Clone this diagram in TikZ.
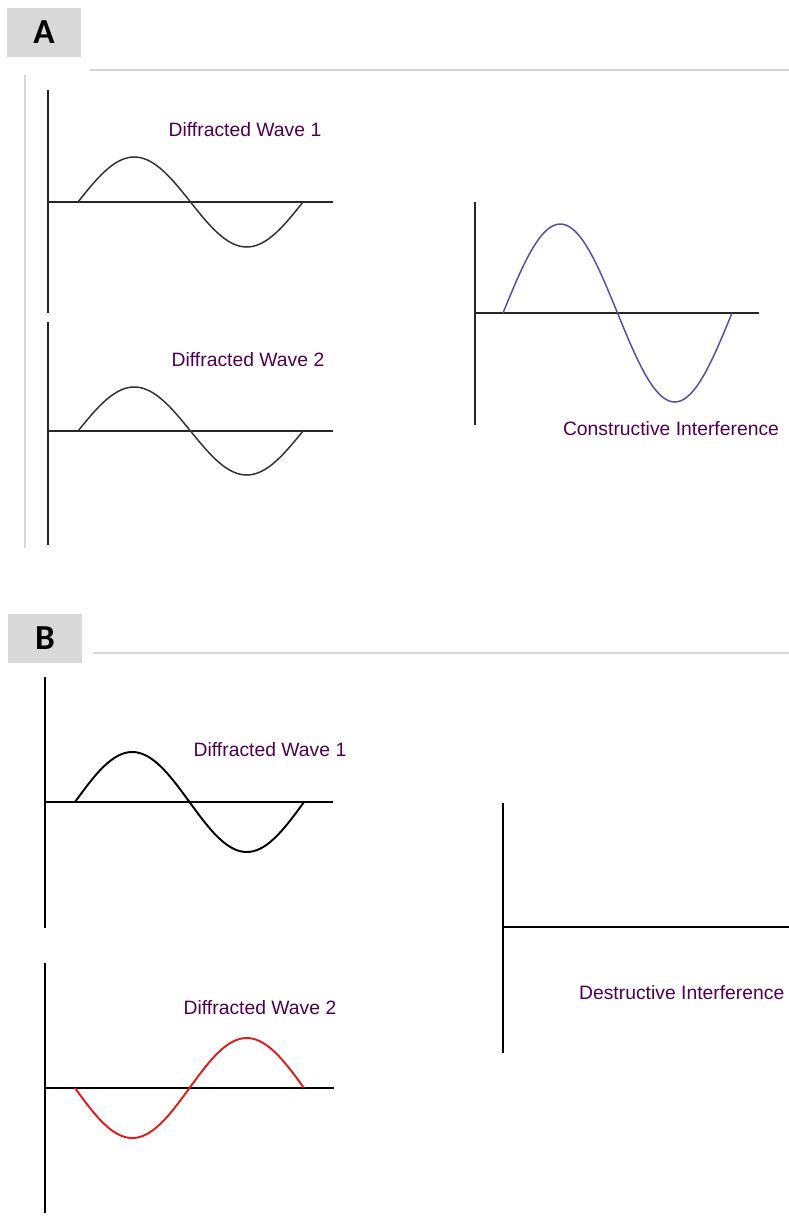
\documentclass[tikz,border=0pt]{standalone}
\usepackage{fontspec}
\setmainfont{Liberation Sans}
\newfontfamily\letrafont{Carlito}

\definecolor{morado}{RGB}{78,0,78}
\definecolor{azulonda}{RGB}{82,82,165}
\definecolor{rojoonda}{RGB}{222,28,28}
\definecolor{grisfondo}{RGB}{217,217,217}

\begin{document}
\begin{tikzpicture}[
    x=0.2mm, y=-0.2mm,
    letra/.style  = {rectangle, fill=grisfondo, minimum width=14.6mm,
                     minimum height=9.8mm, inner sep=0pt,
                     font=\letrafont\fontsize{20}{22}\selectfont\bfseries},
    separa/.style = {draw=black!16, line width=0.6pt},
    eje/.style    = {draw=black!85, line width=1.1pt},
    ejeB/.style   = {draw=black, line width=1.2pt},
    onda/.style   = {draw=black!80, line width=0.85pt},
    ondaB/.style  = {draw=black, line width=1.1pt},
    texto/.style  = {font=\fontsize{11}{13}\selectfont, text=morado,
                     inner sep=1pt},
  ]
  \useasboundingbox (0,0) rectangle (789,1231);

  %-------------------------------------------------- A. cabecera
  \node[letra] (A) at (44,32.5) {A};
  \draw[separa] (90,70) -- (789,70);
  \draw[separa] (25,75) -- (25,548);

  %-------------------------------------------------- A. onda difractada 1
  \draw[eje]  (48,90) -- (48,313);
  \draw[eje]  (48,202) -- (333,202);
  \draw[onda] plot[domain=0:360, samples=73, smooth]
    ({78+\x/360*225}, {202-45*sin(\x)});
  \node[texto] (A1) at (245,130) {Diffracted Wave 1};

  %-------------------------------------------------- A. onda difractada 2
  \draw[eje]  (48,322) -- (48,545);
  \draw[eje]  (48,431) -- (333,431);
  \draw[onda] plot[domain=0:360, samples=73, smooth]
    ({78+\x/360*225}, {431-44*sin(\x)});
  \node[texto] (A2) at (248,360) {Diffracted Wave 2};

  %-------------------------------------------------- A. interferencia constructiva
  \draw[eje]  (475,202) -- (475,425);
  \draw[eje]  (475,313) -- (759,313);
  \draw[onda, draw=azulonda] plot[domain=0:360, samples=73, smooth]
    ({503+\x/360*229}, {313-89*sin(\x)});
  \node[texto] (AC) at (671,429) {Constructive Interference};

  %-------------------------------------------------- B. cabecera
  \node[letra] (B) at (45,638) {B};
  \draw[separa] (93,653) -- (789,653);

  %-------------------------------------------------- B. onda difractada 1
  \draw[ejeB]  (45,677) -- (45,928);
  \draw[ejeB]  (45,802) -- (333,802);
  \draw[ondaB] plot[domain=0:360, samples=73, smooth]
    ({75+\x/360*229}, {802-50*sin(\x)});
  \node[texto] (B1) at (270,750) {Diffracted Wave 1};

  %-------------------------------------------------- B. onda difractada 2
  \draw[ejeB]  (45,963) -- (45,1213);
  \draw[ejeB]  (45,1088) -- (334,1088);
  \draw[ondaB, draw=rojoonda] plot[domain=0:360, samples=73, smooth]
    ({75+\x/360*229}, {1088+50*sin(\x)});
  \node[texto] (B2) at (260,1008) {Diffracted Wave 2};

  %-------------------------------------------------- B. interferencia destructiva
  \draw[ejeB]  (503,803) -- (503,1053);
  \draw[ejeB]  (503,927) -- (789,927);
  \node[texto, anchor=west] (BD) at (577,993) {Destructive Interference};
\end{tikzpicture}
\end{document}
